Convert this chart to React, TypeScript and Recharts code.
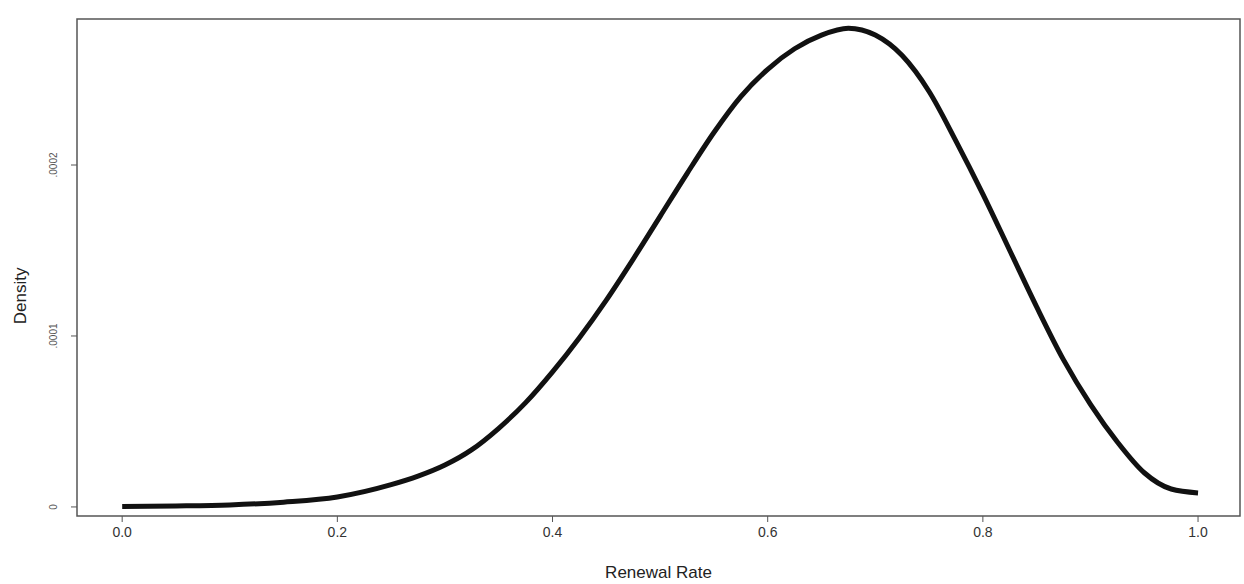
import {
  LineChart,
  Line,
  XAxis,
  YAxis,
  ReferenceArea,
} from "recharts";

const rates = [
  0.0, 0.05, 0.1, 0.15, 0.2, 0.25, 0.275, 0.3, 0.325, 0.35, 0.375, 0.4, 0.425,
  0.45, 0.475, 0.5, 0.525, 0.55, 0.575, 0.6, 0.625, 0.65, 0.675, 0.7, 0.725,
  0.75, 0.775, 0.8, 0.825, 0.85, 0.875, 0.9, 0.925, 0.95, 0.975, 1.0,
];
const densities = [
  0.0000003, 0.0000006, 0.0000012, 0.0000028, 0.0000058, 0.000013, 0.000018,
  0.0000245, 0.0000335, 0.000046, 0.000061, 0.000079, 0.000099, 0.000121,
  0.000145, 0.00017, 0.000195, 0.000219, 0.00024, 0.000256, 0.000268,
  0.000276, 0.00028, 0.000276, 0.000264, 0.000243, 0.000214, 0.000183,
  0.00015, 0.000117, 0.000086, 0.00006, 0.000038, 0.00002, 0.0000105,
  0.0000082,
];
const xTicks = [0, 0.2, 0.4, 0.6, 0.8, 1.0];
const yTicks = [0, 0.0001, 0.0002];
const yTickLabels = ["0", ".0001", ".0002"];

const X_DOMAIN: [number, number] = [-0.042, 1.039];
const Y_DOMAIN: [number, number] = [-0.0000053, 0.0002854];

const FONT = "'Liberation Sans', Arial, sans-serif";

function YTick(props: any) {
  const { x, y, payload } = props;
  const i = yTicks.indexOf(payload.value);
  const tx = x - 12;
  return (
    <text
      x={tx}
      y={y}
      transform={`rotate(-90, ${tx}, ${y})`}
      textAnchor="middle"
      fontSize={10}
      fontFamily={FONT}
      fill="#555"
    >
      {i >= 0 ? yTickLabels[i] : ""}
    </text>
  );
}

export default function App() {
  const data = rates.map((r, i) => ({ rate: r, density: densities[i] }));

  return (
    <div style={{ position: "absolute", left: 0, top: 0, background: "#fff" }}>
      <LineChart
        width={1244}
        height={584}
        data={data}
        margin={{ top: 19, right: 4, bottom: 28, left: 30 }}
      >
        <XAxis
          dataKey="rate"
          type="number"
          domain={X_DOMAIN}
          ticks={xTicks}
          allowDataOverflow
          tickFormatter={(v: number) => v.toFixed(1)}
          axisLine={false}
          tickLine={{ stroke: "#555" }}
          tickSize={6}
          tickMargin={5}
          height={40}
          tick={{ fontSize: 14, fill: "#333", fontFamily: FONT }}
          label={{
            value: "Renewal Rate",
            position: "bottom",
            offset: 10,
            fontSize: 17,
            fill: "#222",
            fontFamily: FONT,
          }}
        />
        <YAxis
          type="number"
          domain={Y_DOMAIN}
          ticks={yTicks}
          allowDataOverflow
          axisLine={false}
          tickLine={{ stroke: "#555" }}
          tickSize={6}
          width={47}
          tick={<YTick />}
          label={{
            value: "Density",
            angle: -90,
            position: "left",
            offset: 10,
            fontSize: 17,
            fill: "#222",
            fontFamily: FONT,
          }}
        />
        <ReferenceArea
          x1={X_DOMAIN[0]}
          x2={X_DOMAIN[1]}
          y1={Y_DOMAIN[0]}
          y2={Y_DOMAIN[1]}
          fill="none"
          stroke="#555"
          strokeWidth={1.5}
          ifOverflow="visible"
        />
        <Line
          type="monotone"
          dataKey="density"
          stroke="#111"
          strokeWidth={5}
          dot={false}
          isAnimationActive={false}
        />
      </LineChart>
    </div>
  );
}
